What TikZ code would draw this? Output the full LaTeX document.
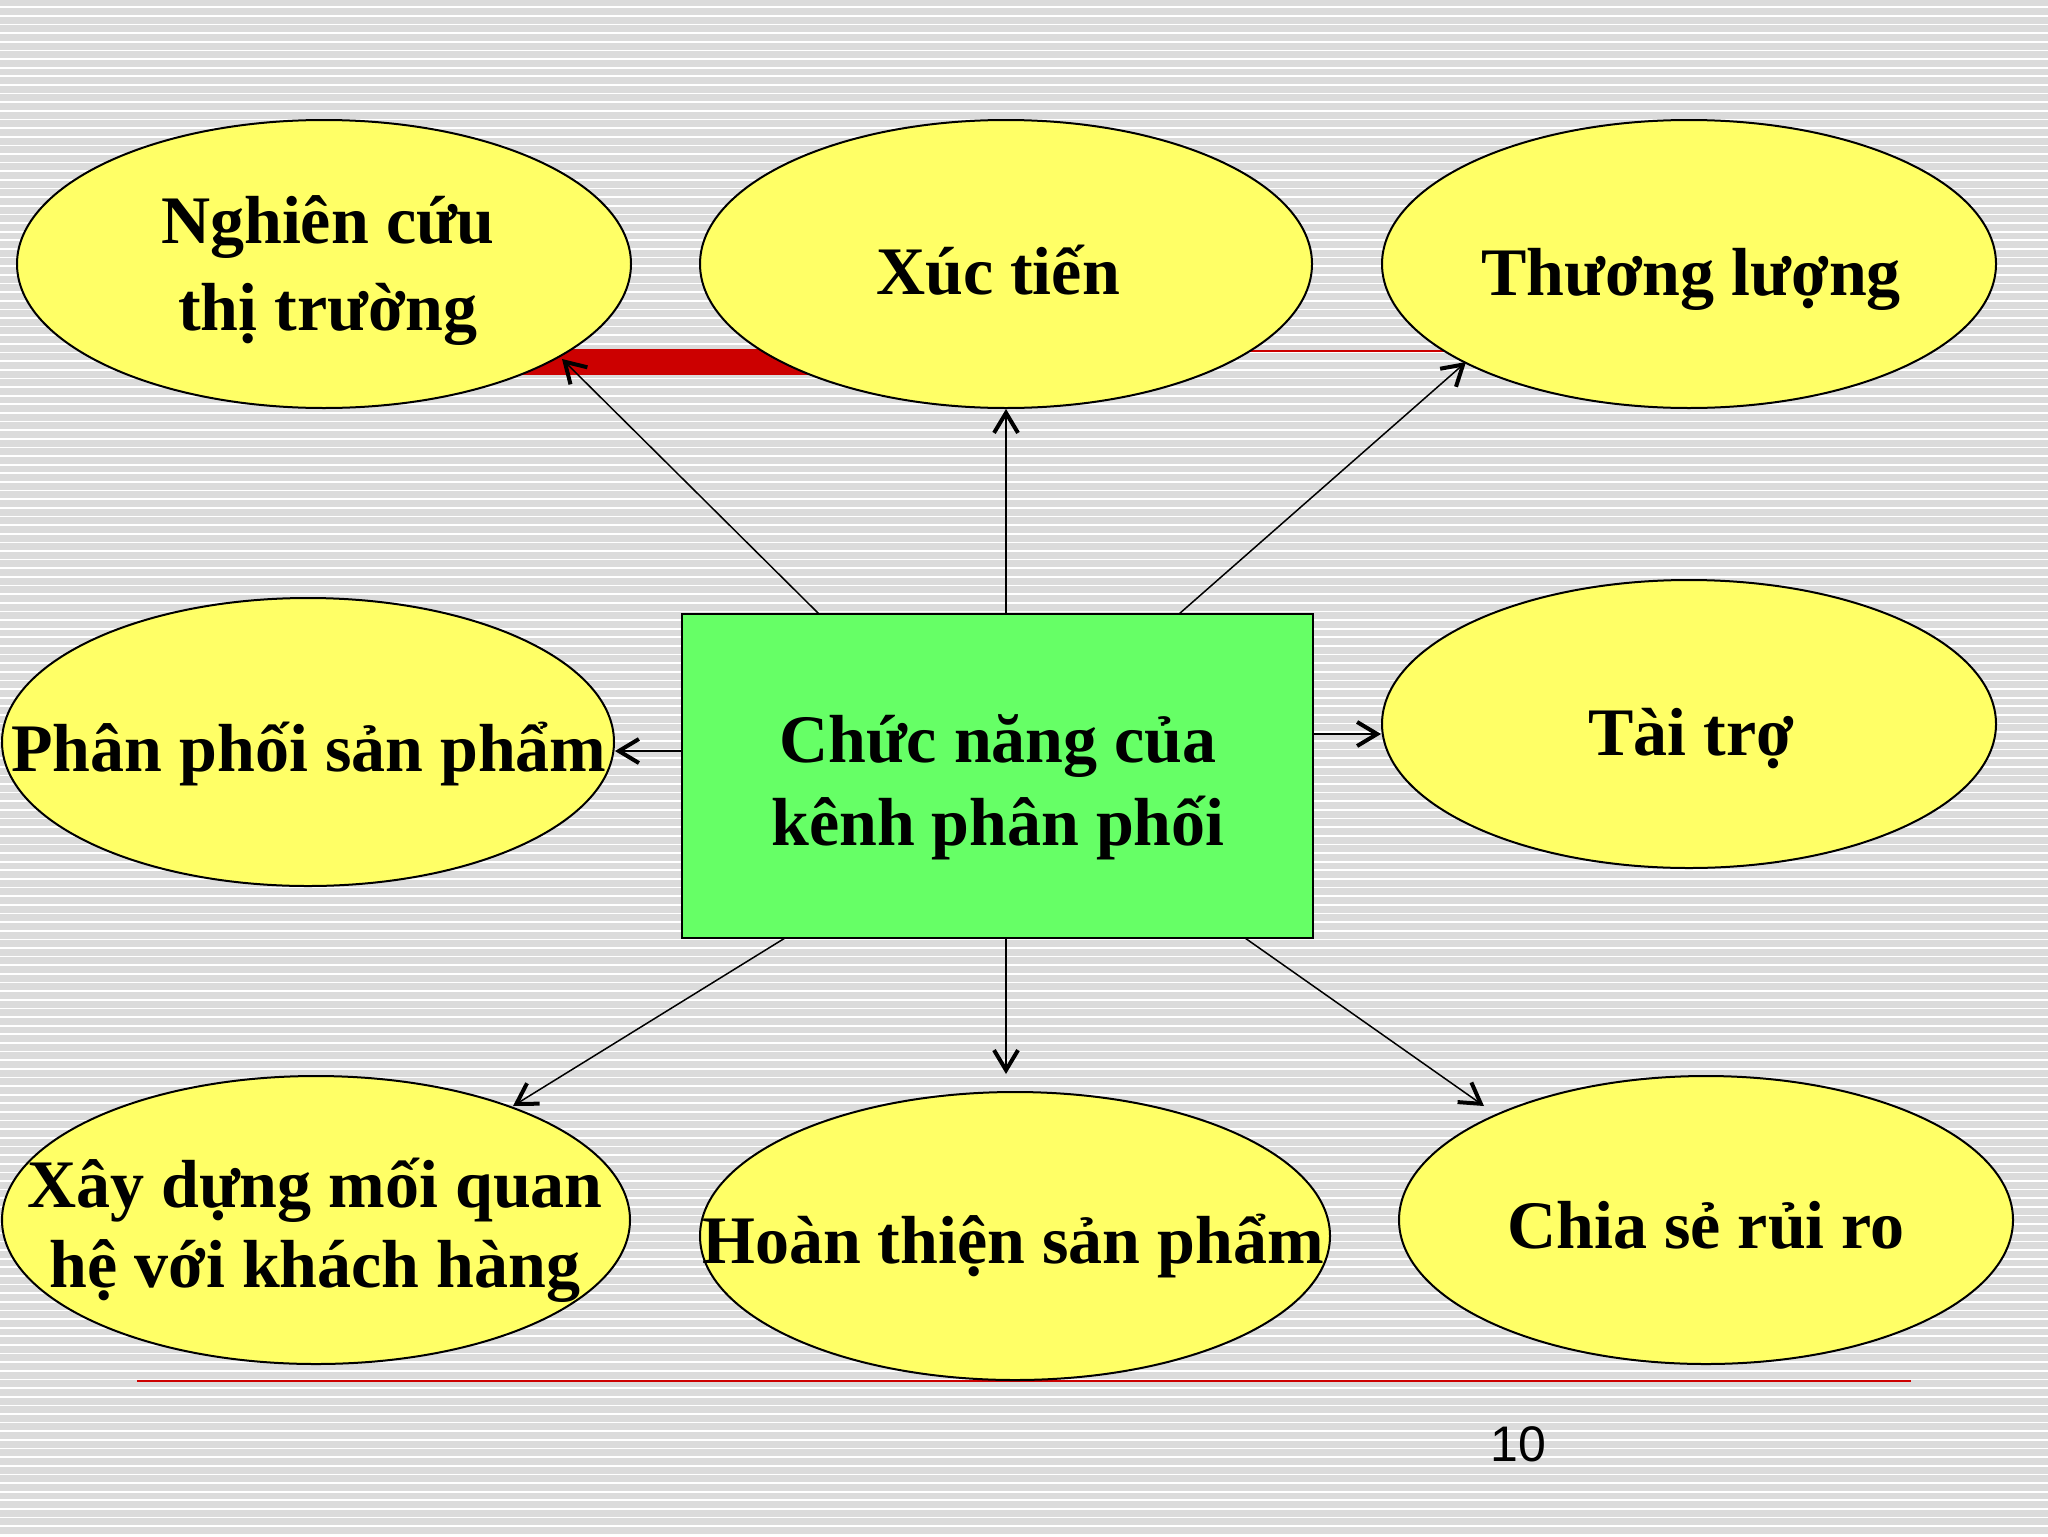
\documentclass[tikz,border=0pt]{standalone}
\usepackage{fontspec}
\setmainfont{Liberation Serif}
\newfontfamily\numfont{Liberation Sans}
\usetikzlibrary{arrows.meta,calc,shapes.geometric}
\definecolor{bggray}{RGB}{219,219,219}
\definecolor{bubyellow}{RGB}{255,255,102}
\definecolor{boxgreen}{RGB}{102,255,102}
\definecolor{barred}{RGB}{204,0,0}
\newcommand\lblsize[1]{\fontsize{34}{#1}\selectfont\bfseries}
\begin{document}
\begin{tikzpicture}[x=0.5pt,y=-0.5pt,
  bub/.style={ellipse, draw=black, line width=1pt, fill=bubyellow, inner sep=0pt, minimum height=144pt},
  mainbox/.style={rectangle, draw=black, line width=1pt, fill=boxgreen, inner sep=0pt, minimum width=315.5pt, minimum height=162pt},
  lbl/.style={font=\lblsize{37.5}, align=center, inner sep=0pt, anchor=base},
  arr/.style={line width=0.75pt, -{Straight Barb[length=10pt,width=12pt,line width=2pt]}}]
\useasboundingbox (0,0) rectangle (2048,1536);
% background
\fill[bggray] (0,0) rectangle (2048,1536);
\foreach \i in {0,...,178} {
  \draw[white, line width=0.85pt] (0,{7.3+\i*8.63}) -- (2048,{7.3+\i*8.63});
}
% template lines
\fill[barred] (140,349) rectangle (1000,375);
\draw[barred, line width=1pt] (1000,351) -- (1911,351);
\draw[barred, line width=1pt] (137,1381) -- (1911,1381);
% nodes
\node[bub, minimum width=307pt] (e1) at (324,264) {};
\node[bub, minimum width=306pt] (e2) at (1006,264) {};
\node[bub, minimum width=307pt] (e3) at (1689,264) {};
\node[bub, minimum width=306pt] (e4) at (308,742) {};
\node[bub, minimum width=307pt] (e5) at (1689,724) {};
\node[bub, minimum width=314pt] (e6) at (316,1220) {};
\node[bub, minimum width=315pt] (e7) at (1015,1236) {};
\node[bub, minimum width=307pt] (e8) at (1706,1220) {};
\node[mainbox] (c) at (997.5,776) {};
% labels (base anchor = baseline of the last line)
\node[lbl, font=\lblsize{43.5}] (t1) at (328,330) {Nghiên cứu\\thị trường};
\node[lbl] (t2) at (998,294) {Xúc tiến};
\node[lbl] (t3) at (1691,295) {Thương lượng};
\node[lbl] (t4) at (309,771) {Phân phối sản phẩm};
\node[lbl] (t5) at (1691,755) {Tài trợ};
\node[lbl, font=\lblsize{40}] (t6) at (315,1287) {Xây dựng mối quan\\hệ với khách hàng};
\node[lbl] (t7) at (1013,1263) {Hoàn thiện sản phẩm};
\node[lbl] (t8) at (1706,1248) {Chia sẻ rủi ro};
\node[lbl, font=\lblsize{41.5}] (tc) at (998,845) {Chức năng của\\kênh phân phối};
\node[font=\numfont\fontsize{25}{30}\selectfont, inner sep=0pt, anchor=base] (pg) at (1518,1461) {10};
% arrows
\draw[arr] ($(c.center)+(-178.5,-162)$) -- ($(e1.center)+(238,95)$);
\draw[arr] ($(c.center)+(8.5,-162)$) -- ($(e2.center)+(0,145)$);
\draw[arr] ($(c.center)+(181.5,-162)$) -- ($(e3.center)+(-223,98)$);
\draw[arr] ($(c.center)+(-315.5,-25)$) -- ($(e4.center)+(307,9)$);
\draw[arr] ($(c.center)+(315.5,-42)$) -- ($(e5.center)+(-308,10)$);
\draw[arr] ($(c.center)+(-212.5,162)$) -- ($(e6.center)+(197,-114)$);
\draw[arr] ($(c.center)+(8.5,162)$) -- ($(e7.center)+(-9,-162)$);
\draw[arr] ($(c.center)+(247.5,162)$) -- ($(e8.center)+(-222,-114)$);
\end{tikzpicture}
\end{document}
